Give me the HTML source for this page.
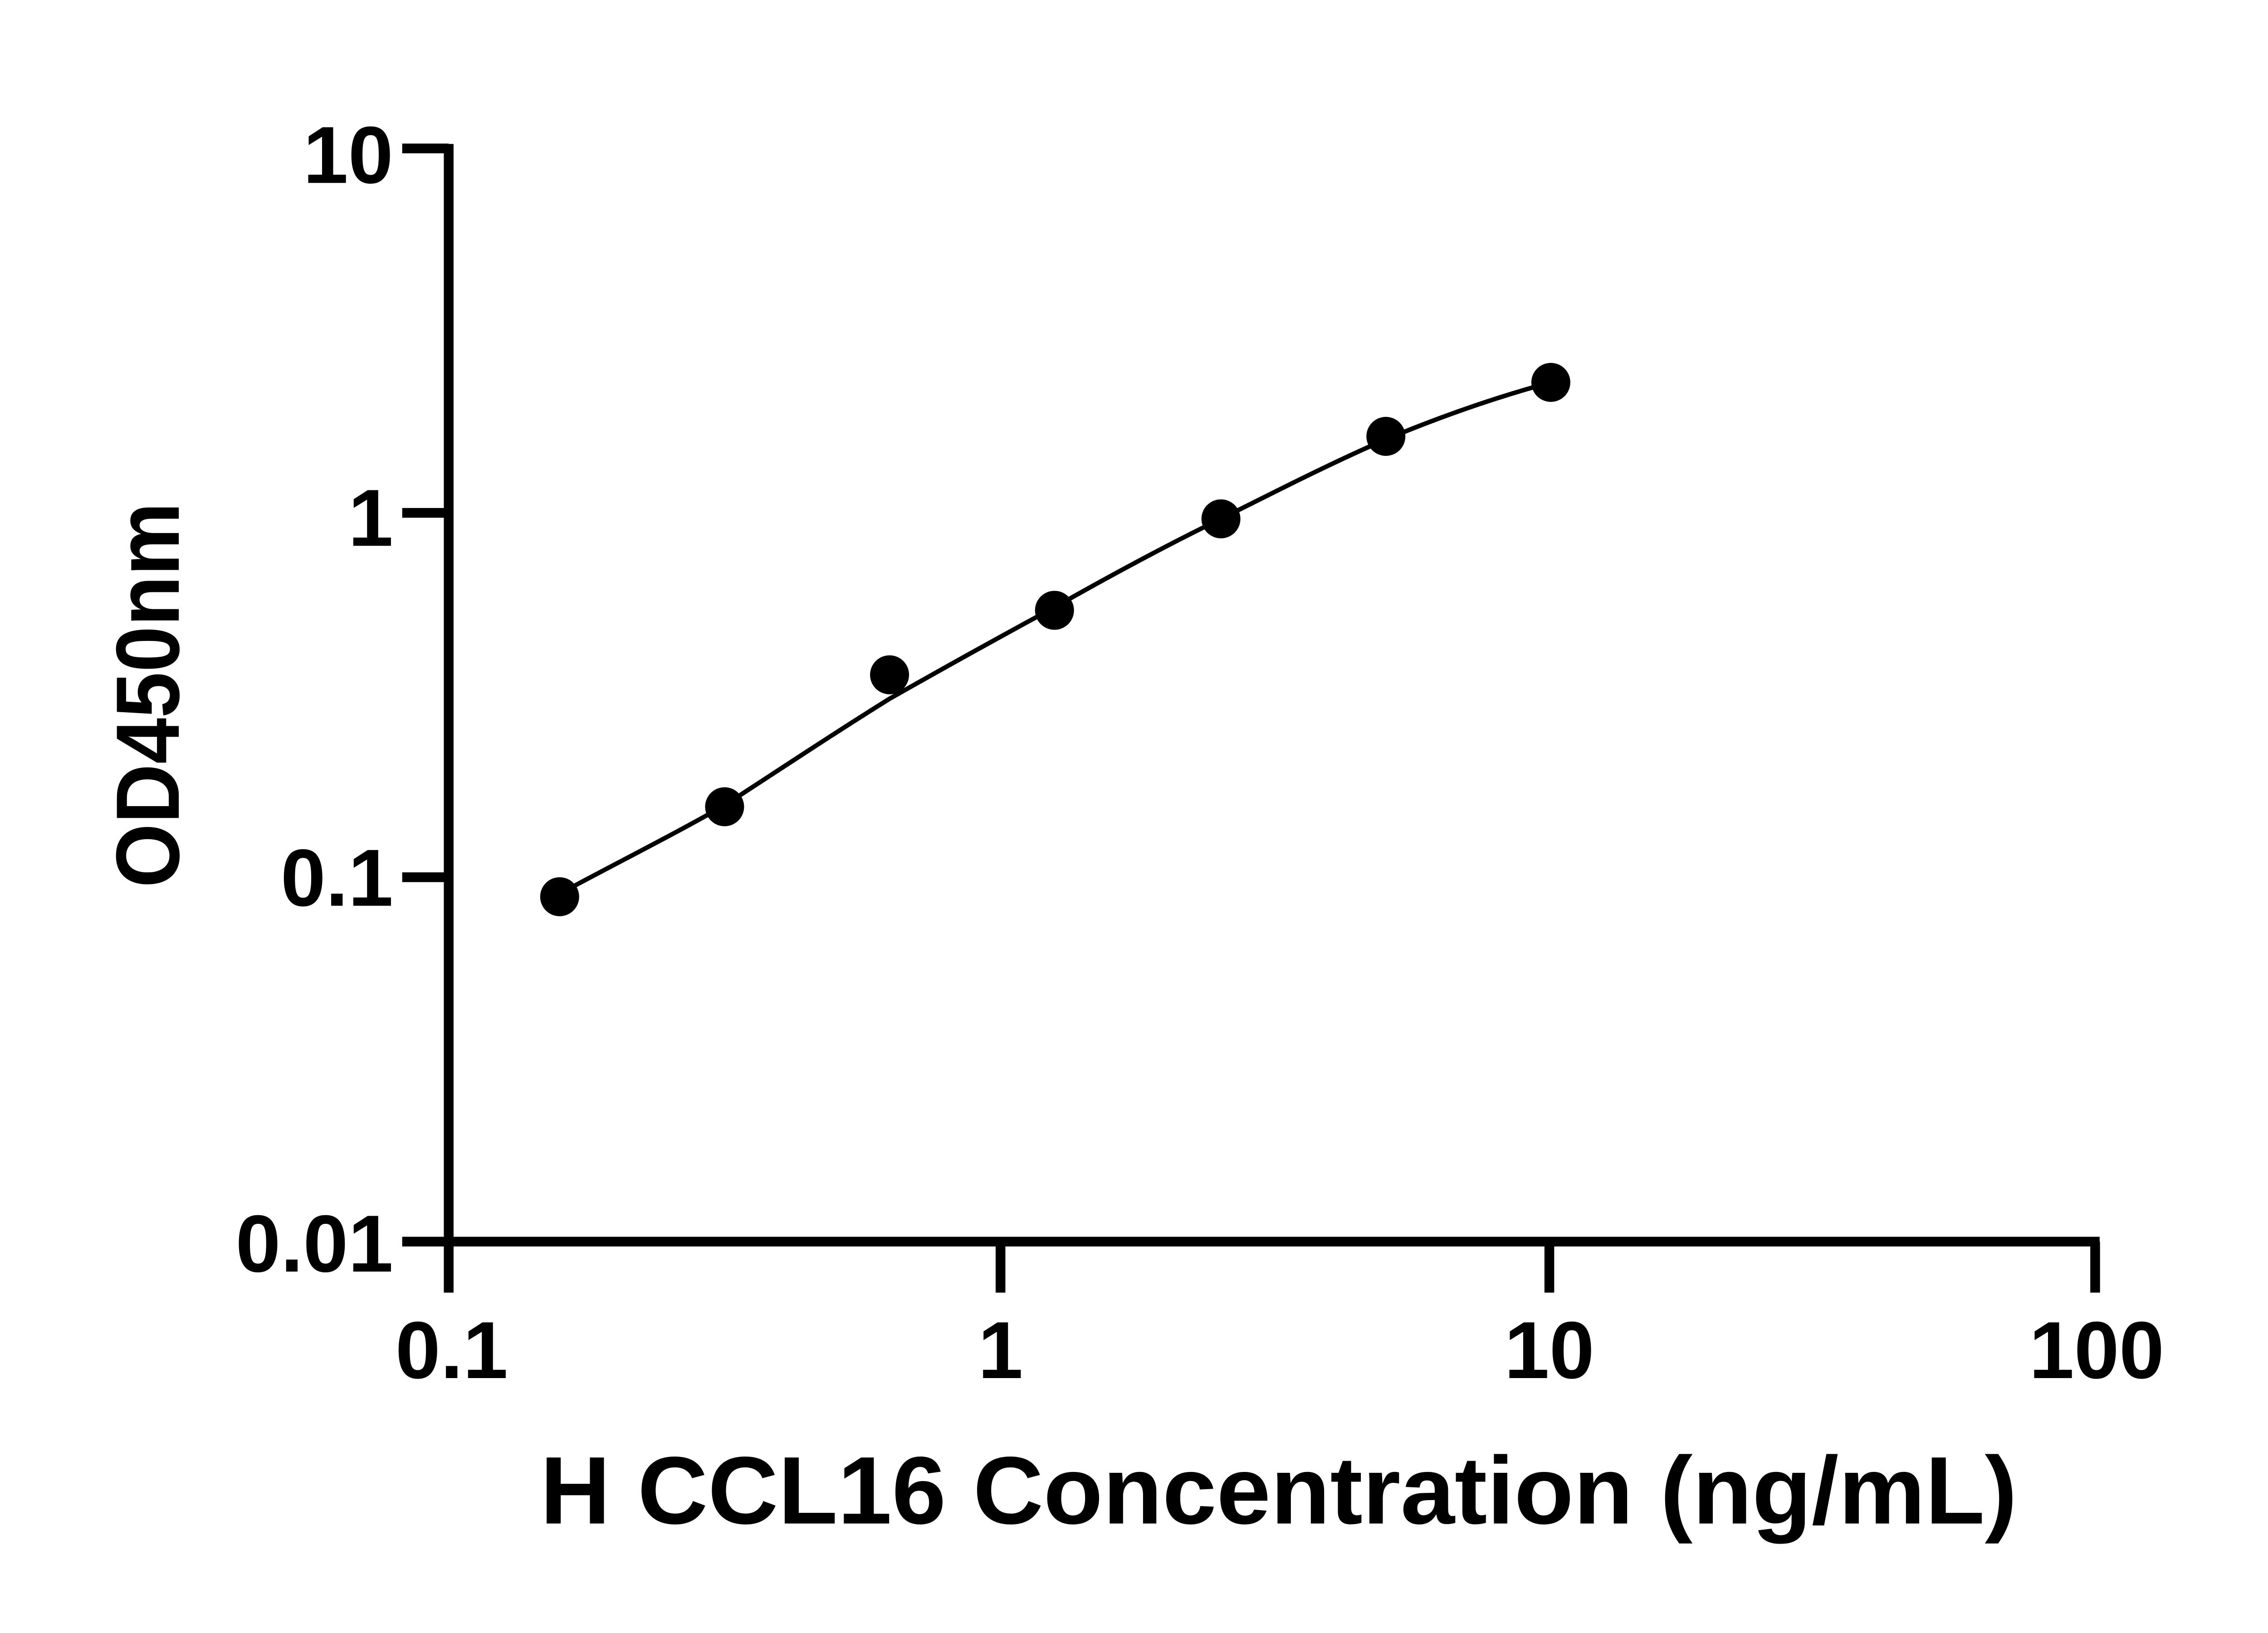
<!DOCTYPE html>
<html><head><meta charset="utf-8"><style>html,body{margin:0;padding:0;background:#fff}svg{display:block}</style></head>
<body>
<svg width="5142" height="3600" viewBox="0 0 1555 1089" xmlns="http://www.w3.org/2000/svg" font-family="Liberation Sans, sans-serif" font-weight="bold">
<rect width="1555" height="1089" fill="#fff"/>
<g stroke="#000" stroke-width="6.5" fill="none" stroke-linecap="butt">
<line x1="299" y1="96" x2="299" y2="862"/>
<line x1="296" y1="828" x2="1400" y2="828"/>
<line x1="268" y1="99" x2="299" y2="99"/>
<line x1="268" y1="342" x2="299" y2="342"/>
<line x1="268" y1="585" x2="299" y2="585"/>
<line x1="268" y1="828" x2="299" y2="828"/>
<line x1="667" y1="828" x2="667" y2="862"/>
<line x1="1033" y1="828" x2="1033" y2="862"/>
<line x1="1397" y1="828" x2="1397" y2="862"/>
</g>
<path d="M373,596 C410,576 450,556 483,537 C520,513 556,489 593,466 C630,445 666,425 703,405 C740,384 777,364 814,346 C850,328 887,309 924,293 C960,278 997,265 1034,255" stroke="#000" stroke-width="3" fill="none"/>
<g fill="#000">
<circle cx="373" cy="598" r="13"/><circle cx="483" cy="538" r="13"/><circle cx="593" cy="450" r="13"/>
<circle cx="703" cy="407" r="13"/><circle cx="814" cy="346" r="13"/><circle cx="924" cy="291" r="13"/>
<circle cx="1034" cy="255" r="13"/>
</g>
<g font-size="54" text-anchor="end" fill="#000">
<text x="262" y="122">10</text><text x="262" y="364">1</text><text x="262" y="604">0.1</text><text x="262" y="848">0.01</text>
</g>
<g font-size="54" text-anchor="middle" fill="#000">
<text x="301" y="919">0.1</text><text x="667" y="919">1</text><text x="1033" y="919">10</text><text x="1398" y="919">100</text>
</g>
<text x="360" y="1016" font-size="64" textLength="985" lengthAdjust="spacingAndGlyphs" fill="#000">H CCL16 Concentration (ng/mL)</text>
<text transform="translate(119,592) rotate(-90)" font-size="60" textLength="257" lengthAdjust="spacingAndGlyphs" fill="#000">OD450nm</text>
</svg>
</body></html>
